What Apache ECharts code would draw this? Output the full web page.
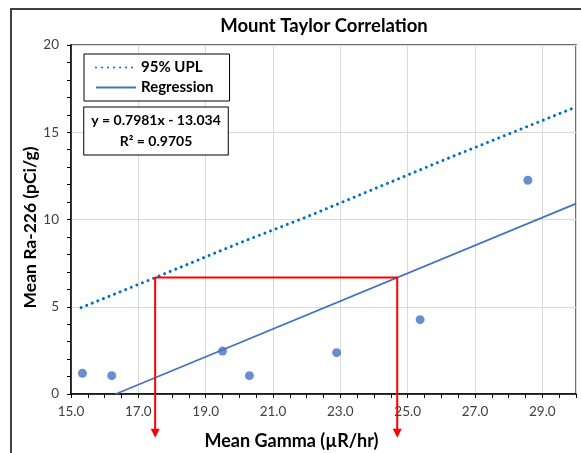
<!DOCTYPE html>
<html>
<head>
<meta charset="utf-8">
<script src="https://cdn.jsdelivr.net/npm/echarts@6/dist/echarts.min.js"></script>
<style>
  html, body { margin: 0; padding: 0; background: #fff; }
  #chart { width: 581px; height: 453px; }
</style>
</head>
<body>
<div id="chart"></div>
<script>
// measured points
const gamma = [15.34, 16.21, 19.50, 20.30, 22.89, 25.37, 28.57];
const ra226 = [1.19, 1.05, 2.46, 1.05, 2.37, 4.26, 12.25];

// trend line ends
const regX = [16.33, 30];
const regY = [0, 10.91];

// 95% upper prediction limit
const uplX = [15.3, 17.5, 20, 22, 24, 26, 28, 30];
const uplY = [4.95, 6.67, 8.65, 10.15, 11.75, 13.35, 14.9, 16.45];

// red guide lines
const guideLevel = 6.67;
const guideX = [17.5, 24.69];
const arrowEnd = -2.25;

const font = 'Lato, "Open Sans", sans-serif';

const chart = echarts.init(document.getElementById('chart'));

chart.setOption({
  animation: false,
  backgroundColor: '#fff',
  textStyle: { fontFamily: font },
  title: {
    text: 'Mount Taylor Correlation',
    left: 319, top: 12, textAlign: 'center',
    textStyle: { fontSize: 18.5, fontWeight: 'bold', color: '#000', fontFamily: font }
  },
  legend: {
    orient: 'vertical',
    left: 84, top: 54,
    padding: [6, 16, 6, 11],
    itemWidth: 40, itemHeight: 14, itemGap: 5,
    borderColor: '#000', borderWidth: 1,
    backgroundColor: '#fff',
    data: [
      { name: '95% UPL', itemStyle: { opacity: 0 } },
      { name: 'Regression', itemStyle: { opacity: 0 } }
    ],
    textStyle: { fontSize: 15, fontWeight: 'bold', color: '#000', fontFamily: font }
  },
  grid: {
    left: 71, top: 45, right: 5, bottom: 59,
    show: true, borderColor: '#404040', borderWidth: 1.5,
    outerBoundsMode: 'none'
  },
  xAxis: {
    type: 'value', min: 15, max: 30, interval: 2,
    name: 'Mean Gamma (µR/hr)',
    nameLocation: 'middle', nameGap: 38,
    nameTextStyle: { fontSize: 18, fontWeight: 'bold', color: '#000', padding: [0, 64, 0, 0] },
    axisLine: { lineStyle: { color: '#000', width: 1.5 } },
    axisTick: { show: true, length: 4, lineStyle: { color: '#000' } },
    minorTick: { show: true, splitNumber: 4, length: 4, lineStyle: { color: '#000' } },
    axisLabel: {
      showMaxLabel: false, margin: 11, fontSize: 13.5, color: '#404040',
      formatter: v => v.toFixed(1)
    },
    splitLine: { show: true, lineStyle: { color: '#d9d9d9', width: 1 } }
  },
  yAxis: {
    type: 'value', min: 0, max: 20, interval: 5,
    name: 'Mean Ra-226 (pCi/g)',
    nameLocation: 'middle', nameGap: 32, nameMoveOverlap: false,
    nameTextStyle: { fontSize: 17.5, fontWeight: 'bold', color: '#000', padding: [0, 16, 0, 0] },
    axisLine: { show: true, lineStyle: { color: '#000', width: 1.5 } },
    axisTick: { show: true, length: 4, lineStyle: { color: '#000' } },
    minorTick: { show: true, splitNumber: 5, length: 4, lineStyle: { color: '#000' } },
    axisLabel: { margin: 12, fontSize: 13.5, color: '#404040' },
    splitLine: { show: true, lineStyle: { color: '#d9d9d9', width: 1 } }
  },
  graphic: [
    {
      type: 'rect', silent: true, z: -10,
      shape: { x: 11, y: 9, width: 620, height: 500 },
      style: { fill: 'none', stroke: '#404040', lineWidth: 2 }
    },
    {
      type: 'text', z: 100,
      x: 156, y: 131,
      style: {
        text: 'y = 0.7981x - 13.034\nR² = 0.9705',
        align: 'center', verticalAlign: 'middle',
        font: 'bold 14px ' + font, fill: '#000', lineHeight: 21,
        backgroundColor: '#fff', borderColor: '#000', borderWidth: 1,
        padding: [3, 7, 2, 7]
      }
    }
  ],
  series: [
    {
      name: '95% UPL', type: 'line', symbol: 'none',
      data: uplX.map((x, i) => [x, uplY[i]]),
      lineStyle: { color: '#0070C0', width: 3, type: [0.01, 6], cap: 'round' },
      itemStyle: { color: '#0070C0' }
    },
    {
      name: 'Regression', type: 'line', symbol: 'none',
      data: regX.map((x, i) => [x, regY[i]]),
      lineStyle: { color: '#4472C4', width: 1.75 },
      itemStyle: { color: '#4472C4' }
    },
    {
      name: 'Data', type: 'scatter', symbolSize: 9,
      data: gamma.map((x, i) => [x, ra226[i]]),
      itemStyle: { color: '#4472C4' }
    },
    {
      name: 'Guide', type: 'line', clip: false,
      symbol: 'triangle', symbolRotate: 180, symbolSize: [9, 9],
      data: [
        [guideX[0], arrowEnd],
        { value: [guideX[0], guideLevel], symbol: 'none' },
        { value: [guideX[1], guideLevel], symbol: 'none' },
        [guideX[1], arrowEnd]
      ],
      lineStyle: { color: '#ff0000', width: 2 },
      itemStyle: { color: '#ff0000' },
      z: 5
    }
  ]
});
</script>
</body>
</html>
